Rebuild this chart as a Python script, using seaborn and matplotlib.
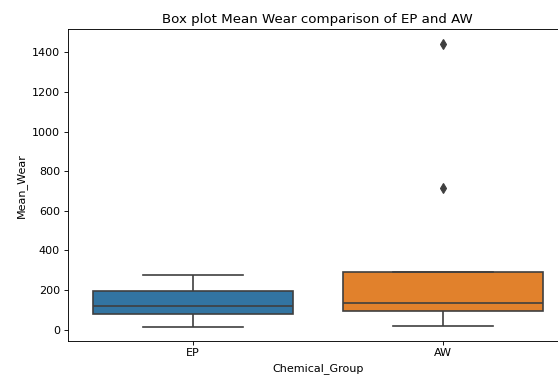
import matplotlib
matplotlib.use("Agg")
import matplotlib.pyplot as plt
import seaborn as sns
import pandas as pd

groups = ["EP", "AW"]
ep_wear = [15, 40, 78, 100, 120, 160, 194, 240, 275]
aw_wear = [20, 60, 95, 110, 132, 200, 290, 713, 1444]

df = pd.DataFrame({
    "Chemical_Group": ["EP"] * len(ep_wear) + ["AW"] * len(aw_wear),
    "Mean_Wear": ep_wear + aw_wear,
})

DPI = 80
fig = plt.figure(figsize=(558 / DPI, 379 / DPI), dpi=DPI)
ax = fig.add_axes([0.1213, 0.1011, 0.896, 0.8211])
line_gray = "#3f3f3f"
sns.boxplot(data=df, x="Chemical_Group", y="Mean_Wear", hue="Chemical_Group",
            order=groups, hue_order=groups, palette=["#1f77b4", "#ff7f0e"],
            saturation=0.75, legend=False, ax=ax, linecolor=line_gray,
            linewidth=1.5, width=0.8,
            flierprops=dict(marker="d", markerfacecolor=line_gray,
                            markeredgecolor=line_gray, markersize=6))
ax.set_title("Box plot Mean Wear comparison of EP and AW", fontsize=12)
fig.savefig("out.png", dpi=DPI)
